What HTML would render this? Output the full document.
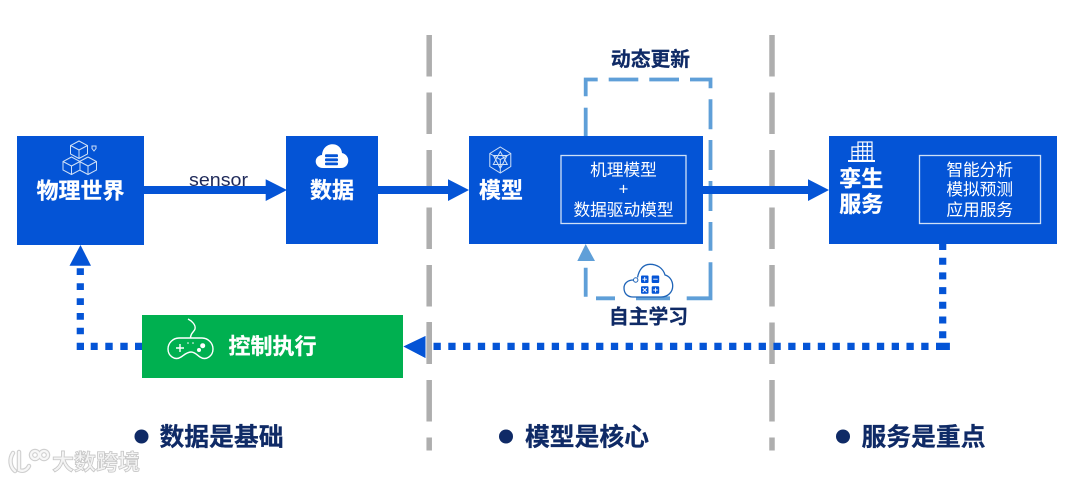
<!DOCTYPE html>
<html><head><meta charset="utf-8"><style>
html,body{margin:0;padding:0;background:#fff}
svg{display:block}
text{font-family:"Liberation Sans","Noto Sans CJK SC",sans-serif}
.b{font-weight:700;fill:#fff;font-size:22px;text-anchor:middle;dominant-baseline:central;stroke:#fff;stroke-width:.25}
.n{fill:#fff;font-size:16.7px;text-anchor:middle;dominant-baseline:central}
.d{font-weight:700;fill:#0f2a66;text-anchor:middle;dominant-baseline:central;stroke:#0f2a66;stroke-width:.25}
</style></head><body>
<svg width="1080" height="481" viewBox="0 0 1080 481" xmlns="http://www.w3.org/2000/svg">
<rect width="1080" height="481" fill="#fff"/>
<!-- gray separators -->
<g stroke="#aeaeae" stroke-width="5.5" stroke-dasharray="41.5 16">
<line x1="429.2" y1="35" x2="429.2" y2="450.5"/>
<line x1="772" y1="35" x2="772" y2="450.5"/>
</g>
<!-- light blue dashed loop -->
<g fill="none" stroke="#5f9fd8" stroke-width="3.8">
<path d="M585.7 96.3V79.500H597.700"/>
<path d="M585.700 107.700V136"/>
<path d="M608.700 79.500H638.300M649.300 79.500H679M690 79.500H710.500V88.300"/>
<path d="M710.500 99.300V129.300M710.500 140V170M710.500 181V211M710.500 222V250.700M710.500 262.300V298.300H686.700"/>
<path d="M670 298.300H636M615 298.300H596M585.700 296.700V267.700"/>
</g>
<polygon points="585.700,244 595,261 577.300,261" fill="#5f9fd8"/>
<!-- boxes -->
<rect x="17" y="136" width="127" height="109" fill="#0454d6"/>
<rect x="286" y="136" width="92" height="108" fill="#0454d6"/>
<rect x="469" y="136" width="234" height="108" fill="#0454d6"/>
<rect x="829" y="136" width="228" height="108" fill="#0454d6"/>
<rect x="142" y="315" width="261" height="63" fill="#00b050"/>
<rect x="561" y="155.500" width="125" height="68" fill="none" stroke="#cfe0f7" stroke-width="1.300"/>
<rect x="919.500" y="155.500" width="121" height="68" fill="none" stroke="#cfe0f7" stroke-width="1.300"/>
<!-- solid arrows -->
<g fill="#0454d6">
<rect x="144" y="186" width="124" height="8"/><polygon points="265.700,179.300 287,190 265.700,201"/>
<rect x="378" y="186" width="72" height="8"/><polygon points="448,179.300 469,190 448,201"/>
<rect x="703" y="186" width="108" height="8"/><polygon points="808,179.300 829,190 808,201"/>
<polygon points="403.500,346.500 425.500,336 425.500,358"/>
<polygon points="80.500,245 91,265.700 69.500,265.700"/>
</g>
<!-- dotted -->
<g fill="none" stroke="#0454d6" stroke-width="7.2">
<path d="M942.700 243V340" stroke-dasharray="7 7.700"/>
<path d="M433.500 346.400H930" stroke-dasharray="7.300 7.480"/>
<path d="M936 346.400H946.300V342.700"/>
<path d="M135 346.400H142M120.300 346.400H127.700M105.300 346.400H112.700M90.700 346.400H97.700M84 346.400H80.300V342.700"/>
<path d="M80.300 268.300V275M80.300 283.300V290M80.300 298.300V305M80.300 313V319.700M80.300 327.700V334.300"/>
</g>
<polygon points="403.500,346.500 425.500,336 425.500,358" fill="#0454d6"/>
<line x1="429.200" y1="322" x2="429.200" y2="364" stroke="#aeaeae" stroke-width="5.500"/>
<!-- labels -->
<text x="189" y="186" font-size="18" textLength="59" lengthAdjust="spacingAndGlyphs" fill="#1f2a5a">sensor</text>
<text class="b" x="80.500" y="191">物理世界</text>
<text class="b" x="332" y="190.500">数据</text>
<text class="b" x="501" y="190.500">模型</text>
<text class="b" x="861.300" y="179">孪生</text>
<text class="b" x="861.300" y="204.500">服务</text>
<text class="n" x="623.500" y="170">机理模型</text>
<text class="n" x="623.500" y="189">+</text>
<text class="n" x="623.500" y="210">数据驱动模型</text>
<text class="n" x="979.700" y="170">智能分析</text>
<text class="n" x="979.700" y="189.500">模拟预测</text>
<text class="n" x="979.700" y="210">应用服务</text>
<text class="b" x="272.500" y="346.500">控制执行</text>
<text class="d" x="650.500" y="60" font-size="19.800">动态更新</text>
<text class="d" x="648.500" y="317.500" font-size="19.800">自主学习</text>
<circle cx="141.500" cy="436.500" r="7" fill="#0f2a66"/>
<circle cx="506" cy="436.500" r="7" fill="#0f2a66"/>
<circle cx="843" cy="436.500" r="7" fill="#0f2a66"/>
<text class="d" x="221.500" y="438" font-size="24.800">数据是基础</text>
<text class="d" x="587" y="438" font-size="24.800">模型是核心</text>
<text class="d" x="923.500" y="438" font-size="24.800">服务是重点</text>
<!-- cubes icon -->
<g fill="none" stroke="#cfe0f7" stroke-width="1">
<path d="M79 141l8.500 4.500v8.500L79 158.500 70.500 154v-8.500zM70.500 145.500l8.500 4.500 8.500-4.500M79 150v8.500"/>
<path d="M71.500 157l8.500 4.500v8.500l-8.500 4.500L63 170v-8.500zM63 161.500l8.500 4.500 8.500-4.500M71.500 166v8.500"/>
<path d="M88 157l8.500 4.500v8.500L88 174.500 79.500 170M79.500 161.500l8.500 4.500 8.500-4.500M88 166v8.500M79.500 161.500L88 157"/>
<path d="M92 146h4v2.500l-2 2.500-2-2.500z"/>
</g>
<!-- data cloud icon -->
<path d="M323 168C314 168 313 156 322 155C323 141 341 141 342 153C351 155 350 168 341 168Z" fill="#fff"/>
<g fill="#0454d6"><rect x="325" y="154.300" width="13" height="2.800" rx="1"/><rect x="325" y="158.400" width="13" height="2.800" rx="1"/><rect x="325" y="162.500" width="13" height="2.800" rx="1"/></g>
<!-- model icon -->
<g fill="none" stroke="#cfe0f7" stroke-width="1">
<path d="M500.300 147l10.500 6.500v13l-10.500 6.500-10.500-6.500v-13z"/>
<path d="M500.300 151.500l7 13h-14zM493.500 155.500h13.600l-6.800 13zM489.800 153.500l10.500 6 10.500-6M500.300 173v-13.500"/>
</g>
<!-- building icon -->
<g fill="none" stroke="#fff" stroke-width="1.200">
<rect x="852" y="147" width="6" height="13.500"/>
<rect x="858" y="142" width="14" height="18.500"/>
<path d="M862.700 142v18.500M867.300 142v18.500M858 146.500h14M858 151h14M858 155.500h14M852 151.500h6M852 155.500h6"/>
</g>
<rect x="848" y="160" width="27" height="2" fill="#fff"/>
<!-- gamepad -->
<g fill="none" stroke="#fff" stroke-width="1.400">
<path d="M188 319C192 321 196 325 195 329C194 332 190.500 333 190.500 338"/>
<path d="M179 338H202C208 338 213 343 213 349C213 356 206 361 200 357C197 355 195 352 191 352C187 352 184 355 181 357C175 361 168 356 168 349C168 343 173 338 179 338Z"/>
<path d="M176 348h8M180 344v8"/>
</g>
<g fill="#fff"><circle cx="202.700" cy="345.700" r="2.500"/><circle cx="199" cy="350" r="2"/><circle cx="188" cy="343" r=".8"/><circle cx="193" cy="343" r=".8"/></g>
<!-- learning cloud -->
<path d="M633.500 280C627 280 624 284 624 288C624 294 628 297 633 297H661C668 297 672.700 292 672.700 286C672.700 280 669 276 665 275C663 268 657 264.300 650 264.300C643 264.300 639 270 637.500 277.500" fill="#fff" stroke="#1f64b8" stroke-width="1.300"/>
<circle cx="635.700" cy="280" r="2.200" fill="#fff" stroke="#1f64b8"/>
<g fill="#0454d6"><rect x="641" y="275.500" width="7.500" height="7.500" rx="1"/><rect x="651.700" y="275.500" width="7.500" height="7.500" rx="1"/><rect x="641" y="286.200" width="7.500" height="7.500" rx="1"/><rect x="651.700" y="286.200" width="7.500" height="7.500" rx="1"/></g>
<g stroke="#fff" stroke-width=".9"><path d="M642.500 279.200h4.500M644.700 277v4.500M653.200 279.200h4.500M642.700 288l4 4M646.700 288l-4 4M653.200 290h4.500M655.500 287.700v4.500"/></g>
<!-- watermark -->
<g fill="none" stroke="#cfcfcf" stroke-width="4.500" stroke-linecap="round">
<path d="M13 453C9 459 10 467 15 471M19 452V470C23 472 27 470 29 466"/>
<circle cx="35" cy="455" r="4"/><circle cx="44" cy="455" r="4"/>
</g>
<g fill="none" stroke="#f7f7f7" stroke-width="2.300" stroke-linecap="round">
<path d="M13 453C9 459 10 467 15 471M19 452V470C23 472 27 470 29 466"/>
<circle cx="35" cy="455" r="4"/><circle cx="44" cy="455" r="4"/>
</g>
<text x="52" y="470" font-size="22" font-weight="700" fill="#f4f4f4" stroke="#c6c6c6" stroke-width=".8">大数跨境</text>
</svg>
</body></html>
